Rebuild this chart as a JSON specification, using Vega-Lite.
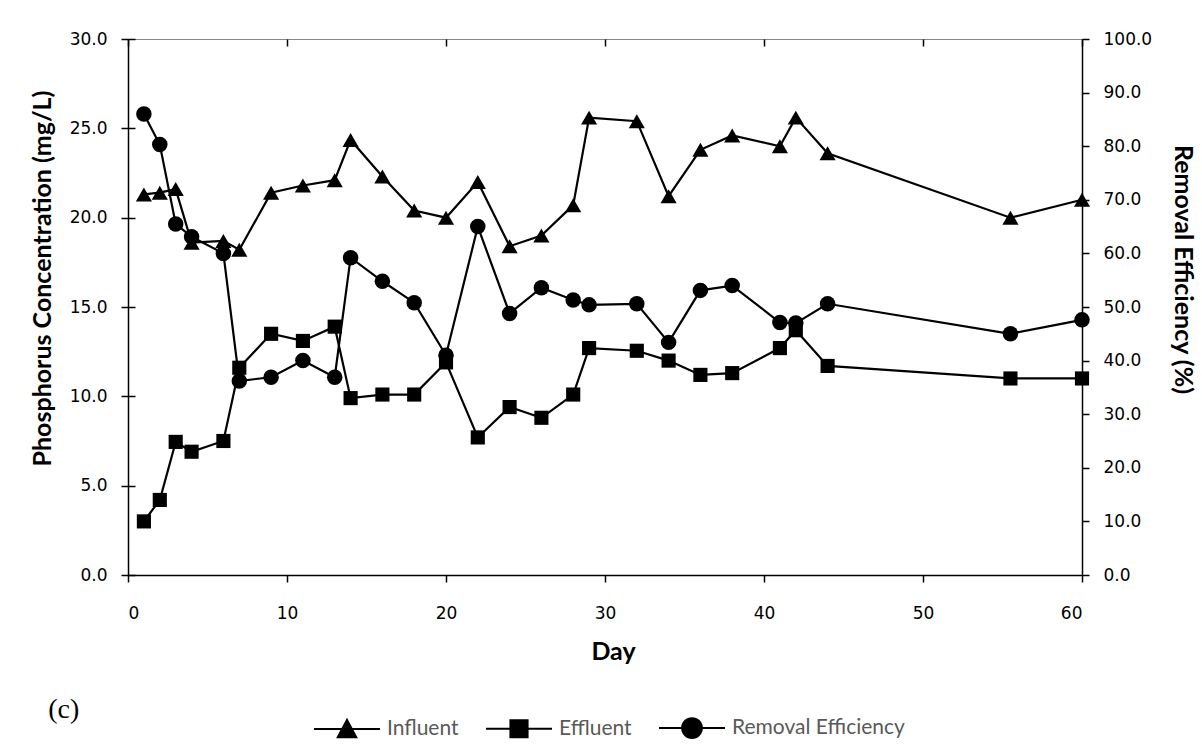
{
  "$schema": "https://vega.github.io/schema/vega-lite/v6.json",
  "width": 954,
  "height": 536,
  "autosize": "none",
  "padding": {"left": 128, "top": 39, "right": 120, "bottom": 178},
  "background": "white",
  "title": {"text": "(c)", "orient": "bottom", "anchor": "start", "frame": "bounds", "font": "Liberation Serif", "fontSize": 28, "fontWeight": "normal", "color": "black", "offset": -46, "dx": 18},
  "config": {
    "font": "Lato",
    "view": {"stroke": "#868686", "strokeWidth": 1},
    "axis": {"grid": true, "gridColor": "black", "gridWidth": 1.5, "gridDash": [7, 3000], "gridOpacity": 1, "domainColor": "black", "domainWidth": 1.5, "tickColor": "black", "tickWidth": 1.5, "tickSize": 7, "labelColor": "black", "labelFontSize": 17, "labelFont": "DejaVu Sans", "titleFont": "Lato", "titleFontSize": 25, "titleFontWeight": "bold", "titleColor": "black", "labelPadding": 14}
  },
  "data": {"values": [
    {"day": 1, "series": "Influent", "value": 21.3},
    {"day": 2, "series": "Influent", "value": 21.4},
    {"day": 3, "series": "Influent", "value": 21.6},
    {"day": 4, "series": "Influent", "value": 18.6},
    {"day": 6, "series": "Influent", "value": 18.7},
    {"day": 7, "series": "Influent", "value": 18.2},
    {"day": 9, "series": "Influent", "value": 21.4},
    {"day": 11, "series": "Influent", "value": 21.8},
    {"day": 13, "series": "Influent", "value": 22.1},
    {"day": 14, "series": "Influent", "value": 24.35},
    {"day": 16, "series": "Influent", "value": 22.3},
    {"day": 18, "series": "Influent", "value": 20.4},
    {"day": 20, "series": "Influent", "value": 20.0},
    {"day": 22, "series": "Influent", "value": 22.0},
    {"day": 24, "series": "Influent", "value": 18.4},
    {"day": 26, "series": "Influent", "value": 19.0},
    {"day": 28, "series": "Influent", "value": 20.7},
    {"day": 29, "series": "Influent", "value": 25.6},
    {"day": 32, "series": "Influent", "value": 25.4},
    {"day": 34, "series": "Influent", "value": 21.2},
    {"day": 36, "series": "Influent", "value": 23.8},
    {"day": 38, "series": "Influent", "value": 24.6},
    {"day": 41, "series": "Influent", "value": 24.0},
    {"day": 42, "series": "Influent", "value": 25.6},
    {"day": 44, "series": "Influent", "value": 23.6},
    {"day": 55.5, "series": "Influent", "value": 20.0},
    {"day": 60, "series": "Influent", "value": 21.0},
    {"day": 1, "series": "Effluent", "value": 3.0},
    {"day": 2, "series": "Effluent", "value": 4.2},
    {"day": 3, "series": "Effluent", "value": 7.45},
    {"day": 4, "series": "Effluent", "value": 6.9},
    {"day": 6, "series": "Effluent", "value": 7.5},
    {"day": 7, "series": "Effluent", "value": 11.6},
    {"day": 9, "series": "Effluent", "value": 13.5},
    {"day": 11, "series": "Effluent", "value": 13.1},
    {"day": 13, "series": "Effluent", "value": 13.9},
    {"day": 14, "series": "Effluent", "value": 9.9},
    {"day": 16, "series": "Effluent", "value": 10.1},
    {"day": 18, "series": "Effluent", "value": 10.1},
    {"day": 20, "series": "Effluent", "value": 11.9},
    {"day": 22, "series": "Effluent", "value": 7.7},
    {"day": 24, "series": "Effluent", "value": 9.4},
    {"day": 26, "series": "Effluent", "value": 8.8},
    {"day": 28, "series": "Effluent", "value": 10.1},
    {"day": 29, "series": "Effluent", "value": 12.7},
    {"day": 32, "series": "Effluent", "value": 12.55},
    {"day": 34, "series": "Effluent", "value": 12.0},
    {"day": 36, "series": "Effluent", "value": 11.2},
    {"day": 38, "series": "Effluent", "value": 11.3},
    {"day": 41, "series": "Effluent", "value": 12.7},
    {"day": 42, "series": "Effluent", "value": 13.7},
    {"day": 44, "series": "Effluent", "value": 11.7},
    {"day": 55.5, "series": "Effluent", "value": 11.0},
    {"day": 60, "series": "Effluent", "value": 11.0},
    {"day": 1, "series": "Removal Efficiency", "value": 86.0},
    {"day": 2, "series": "Removal Efficiency", "value": 80.3},
    {"day": 3, "series": "Removal Efficiency", "value": 65.5},
    {"day": 4, "series": "Removal Efficiency", "value": 63.1},
    {"day": 6, "series": "Removal Efficiency", "value": 60.0},
    {"day": 7, "series": "Removal Efficiency", "value": 36.2},
    {"day": 9, "series": "Removal Efficiency", "value": 36.9},
    {"day": 11, "series": "Removal Efficiency", "value": 40.0},
    {"day": 13, "series": "Removal Efficiency", "value": 36.9},
    {"day": 14, "series": "Removal Efficiency", "value": 59.2},
    {"day": 16, "series": "Removal Efficiency", "value": 54.8},
    {"day": 18, "series": "Removal Efficiency", "value": 50.8},
    {"day": 20, "series": "Removal Efficiency", "value": 41.0},
    {"day": 22, "series": "Removal Efficiency", "value": 65.0},
    {"day": 24, "series": "Removal Efficiency", "value": 48.8},
    {"day": 26, "series": "Removal Efficiency", "value": 53.6},
    {"day": 28, "series": "Removal Efficiency", "value": 51.3},
    {"day": 29, "series": "Removal Efficiency", "value": 50.4},
    {"day": 32, "series": "Removal Efficiency", "value": 50.6},
    {"day": 34, "series": "Removal Efficiency", "value": 43.4},
    {"day": 36, "series": "Removal Efficiency", "value": 53.1},
    {"day": 38, "series": "Removal Efficiency", "value": 54.0},
    {"day": 41, "series": "Removal Efficiency", "value": 47.1},
    {"day": 42, "series": "Removal Efficiency", "value": 47.0},
    {"day": 44, "series": "Removal Efficiency", "value": 50.6},
    {"day": 55.5, "series": "Removal Efficiency", "value": 45.0},
    {"day": 60, "series": "Removal Efficiency", "value": 47.6}
  ]},
  "encoding": {
    "x": {"field": "day", "type": "quantitative", "scale": {"domain": [0, 60], "nice": false}, "axis": {"title": "Day", "values": [0, 10, 20, 30, 40, 50, 60], "labelPadding": 23, "titlePadding": 18, "titleX": 485}}
  },
  "layer": [
    {
      "encoding": {"y": {"field": "value", "type": "quantitative", "scale": {"domain": [0, 30], "nice": false}, "axis": {"orient": "left", "title": "Phosphorus Concentration (mg/L)", "values": [0, 5, 10, 15, 20, 25, 30], "format": ".1f", "titlePadding": 14, "titleY": 239}}},
      "layer": [
        {"transform": [{"filter": "datum.series !== 'Removal Efficiency'"}], "mark": {"type": "line", "color": "black", "strokeWidth": 2.2}, "encoding": {"detail": {"field": "series"}}},
        {"transform": [{"filter": "datum.series === 'Influent'"}], "mark": {"type": "point", "shape": "triangle-up", "filled": true, "color": "black", "opacity": 1, "size": 260}},
        {"transform": [{"filter": "datum.series === 'Effluent'"}], "mark": {"type": "point", "shape": "square", "filled": true, "color": "black", "opacity": 1, "size": 200}}
      ]
    },
    {
      "encoding": {"y": {"field": "value", "type": "quantitative", "scale": {"domain": [0, 100], "nice": false}, "axis": {"orient": "right", "title": "Removal Efficiency (%)", "values": [0, 10, 20, 30, 40, 50, 60, 70, 80, 90, 100], "format": ".1f", "titlePadding": 18, "titleY": 230}}},
      "layer": [
        {"transform": [{"filter": "datum.series === 'Removal Efficiency'"}], "mark": {"type": "line", "color": "black", "strokeWidth": 2.2}},
        {"transform": [{"filter": "datum.series === 'Removal Efficiency'"}], "mark": {"type": "point", "shape": "circle", "filled": true, "color": "black", "opacity": 1, "size": 240}}
      ]
    },
    {
      "transform": [{"filter": "false"}],
      "mark": {"type": "point", "filled": false, "color": "black", "opacity": 1, "strokeWidth": 2},
      "encoding": {
        "shape": {"field": "series", "type": "nominal",
          "scale": {"domain": ["Influent", "Effluent", "Removal Efficiency"],
            "range": [
              "M-1,0H1M-0.28,0.25L0,-0.27L0.28,0.25ZM-0.022,-0.23H0.022M-0.049,-0.178H0.049M-0.077,-0.126H0.077M-0.105,-0.074H0.105M-0.133,-0.022H0.133M-0.161,0.03H0.161M-0.189,0.082H0.189M-0.217,0.134H0.217M-0.245,0.186H0.245M-0.273,0.238H0.273",
              "M-1,0H1M-0.26,-0.26H0.26V0.26H-0.26ZM-0.26,-0.208H0.26M-0.26,-0.156H0.26M-0.26,-0.104H0.26M-0.26,-0.052H0.26M-0.26,0.052H0.26M-0.26,0.104H0.26M-0.26,0.156H0.26M-0.26,0.208H0.26",
              "M-1,0H1M0.3,0A0.3,0.3 0 1 1 -0.3,0A0.3,0.3 0 1 1 0.3,0ZM-0.166,-0.25H0.166M-0.224,-0.2H0.224M-0.26,-0.15H0.26M-0.283,-0.1H0.283M-0.296,-0.05H0.296M-0.296,0.05H0.296M-0.283,0.1H0.283M-0.26,0.15H0.26M-0.224,0.2H0.224M-0.166,0.25H0.166"
            ]},
          "legend": {"title": null, "orient": "none", "legendX": 185, "legendY": 655, "direction": "horizontal", "symbolSize": 4356, "symbolStrokeWidth": 2, "symbolStrokeColor": "black", "labelColor": "#595959", "labelFontSize": 21, "labelFont": "Lato", "labelOffset": 6, "labelLimit": 400, "columnPadding": 23}
        }
      }
    }
  ],
  "resolve": {"scale": {"y": "independent", "shape": "independent"}}
}
